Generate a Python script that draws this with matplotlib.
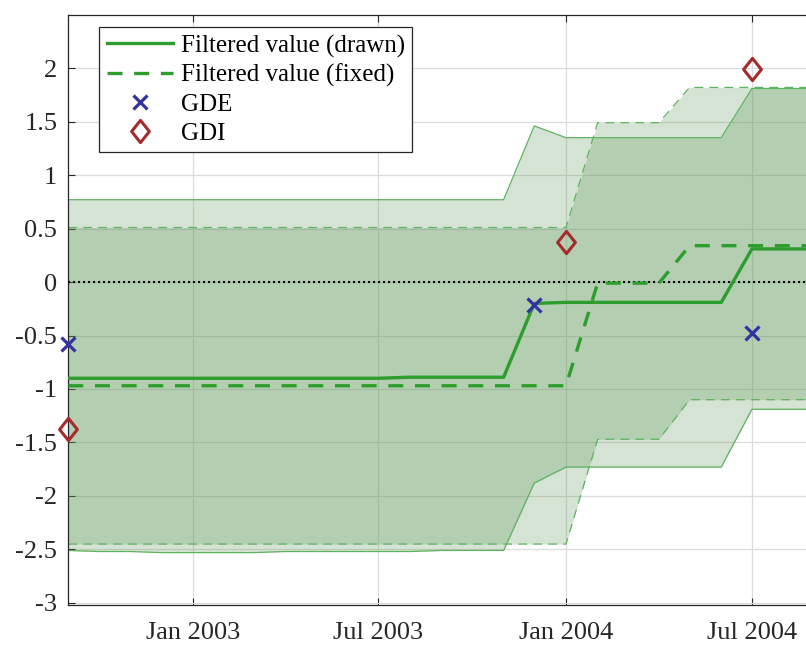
import numpy as np
import pandas as pd
import matplotlib
matplotlib.use("Agg")
import matplotlib.pyplot as plt
import matplotlib.dates as mdates
from matplotlib.path import Path

plt.rcParams['font.family'] = ['Liberation Serif', 'DejaVu Serif']
plt.rcParams['axes.unicode_minus'] = False

# ---- data (monthly, Sep 2002 .. Sep 2004) ----
dates = pd.date_range("2002-09-01", "2004-09-01", freq="MS")

drawn = [-0.90, -0.90, -0.90, -0.90, -0.90, -0.90, -0.90, -0.90, -0.90, -0.90,
         -0.90, -0.89, -0.89, -0.89, -0.89, -0.20, -0.19, -0.19, -0.19, -0.19,
         -0.19, -0.19, 0.31, 0.31, 0.31]
drawn_upper = [0.77, 0.77, 0.77, 0.77, 0.77, 0.77, 0.77, 0.77, 0.77, 0.77,
               0.77, 0.77, 0.77, 0.77, 0.77, 1.46, 1.35, 1.35, 1.35, 1.35,
               1.35, 1.35, 1.81, 1.81, 1.81]
drawn_lower = [-2.51, -2.52, -2.52, -2.53, -2.53, -2.53, -2.53, -2.52, -2.52, -2.52,
               -2.52, -2.52, -2.51, -2.51, -2.51, -1.88, -1.73, -1.73, -1.73, -1.73,
               -1.73, -1.73, -1.19, -1.19, -1.19]

fixed = [-0.97] * 17 + [-0.01, -0.01, -0.01] + [0.34] * 5
fixed_upper = [0.51] * 17 + [1.49, 1.49, 1.49] + [1.82] * 5
fixed_lower = [-2.45] * 17 + [-1.47, -1.47, -1.47] + [-1.10] * 5

nan = np.nan
gde = [-0.58] + [nan] * 14 + [-0.21] + [nan] * 6 + [-0.48] + [nan, nan]
gdi = [-1.37] + [nan] * 15 + [0.37] + [nan] * 5 + [1.99] + [nan, nan]

xtick_dates = pd.to_datetime(["2003-01-01", "2003-07-01", "2004-01-01", "2004-07-01"])
xtick_labels = ["Jan 2003", "Jul 2003", "Jan 2004", "Jul 2004"]
ytick_vals = [-3, -2.5, -2, -1.5, -1, -0.5, 0, 0.5, 1, 1.5, 2]
ytick_labels = ["-3", "-2.5", "-2", "-1.5", "-1", "-0.5", "0", "0.5", "1", "1.5", "2"]

# ---- styles ----
fill_c = (87/255, 147/255, 80/255)
line_c = (45/255, 158/255, 45/255)
band_c = (95/255, 178/255, 95/255)
gde_c = (50/255, 50/255, 160/255)
gdi_c = (165/255, 42/255, 42/255)
txt_c = "#262626"
FS_TICK = 19
FS_LEG = 18

fig = plt.figure(figsize=(8.06, 6.46), dpi=100)
ax = fig.add_axes([68.3/806, 41/646, 747/806, 590.3/646])

ax.fill_between(dates, drawn_lower, drawn_upper, color=fill_c, alpha=0.25, lw=0, zorder=1)
ax.fill_between(dates, fixed_lower, fixed_upper, color=fill_c, alpha=0.25, lw=0, zorder=1)

ax.plot(dates, drawn_upper, color=band_c, lw=0.9, zorder=2)
ax.plot(dates, drawn_lower, color=band_c, lw=0.9, zorder=2)
ax.plot(dates, fixed_upper, color=band_c, lw=0.9, dashes=(7, 5), zorder=2)
ax.plot(dates, fixed_lower, color=band_c, lw=0.9, dashes=(7, 5), zorder=2)

ax.axhline(0, color="black", lw=1.5, dashes=(1, 1.4), zorder=3)

l1, = ax.plot(dates, drawn, color=line_c, lw=2.4, zorder=4, label="Filtered value (drawn)")
l2, = ax.plot(dates, fixed, color=line_c, lw=2.4, dashes=(4.5, 3.5), zorder=4,
              label="Filtered value (fixed)")

diamond = Path([(0, 1), (0.8, 0), (0, -1), (-0.8, 0), (0, 1)],
               [Path.MOVETO, Path.LINETO, Path.LINETO, Path.LINETO, Path.CLOSEPOLY])

m1, = ax.plot(dates, gde, linestyle="none", marker="x", markersize=9.5, mew=2.3,
              color=gde_c, zorder=5, clip_on=False, label="GDE")
m2, = ax.plot(dates, gdi, linestyle="none", marker=diamond, markersize=16, mew=2.2,
              mfc="none", mec=gdi_c, zorder=5, clip_on=False, label="GDI")

ax.set_xlim(pd.Timestamp("2002-09-01"), pd.Timestamp("2004-09-01"))
ax.set_ylim(-3.02, 2.5)
ax.set_xticks(xtick_dates)
ax.set_xticklabels(xtick_labels)
ax.set_yticks(ytick_vals)
ax.set_yticklabels(ytick_labels)

ax.grid(True, color="#dcdcdc", lw=0.9)
ax.set_axisbelow(True)
ax.tick_params(axis="both", direction="in", length=5, width=0.8, colors=txt_c,
               labelsize=FS_TICK, top=True, right=True)
ax.tick_params(axis="x", pad=12.5)
ax.tick_params(axis="y", pad=8)
for s in ax.spines.values():
    s.set_color(txt_c)
    s.set_linewidth(0.9)

leg = ax.legend(handles=[l1, l2, m1, m2], loc="upper left",
                bbox_to_anchor=(31/747, 1 - 12.3/590.3), borderaxespad=0,
                fontsize=FS_LEG, frameon=True, fancybox=False, framealpha=1,
                edgecolor=txt_c, borderpad=0.3, labelspacing=0.25,
                handlelength=2.65, handletextpad=0.3)
leg.get_frame().set_linewidth(0.9)
for t in leg.get_texts():
    t.set_color("black")

fig.savefig("out.png", dpi=100)
